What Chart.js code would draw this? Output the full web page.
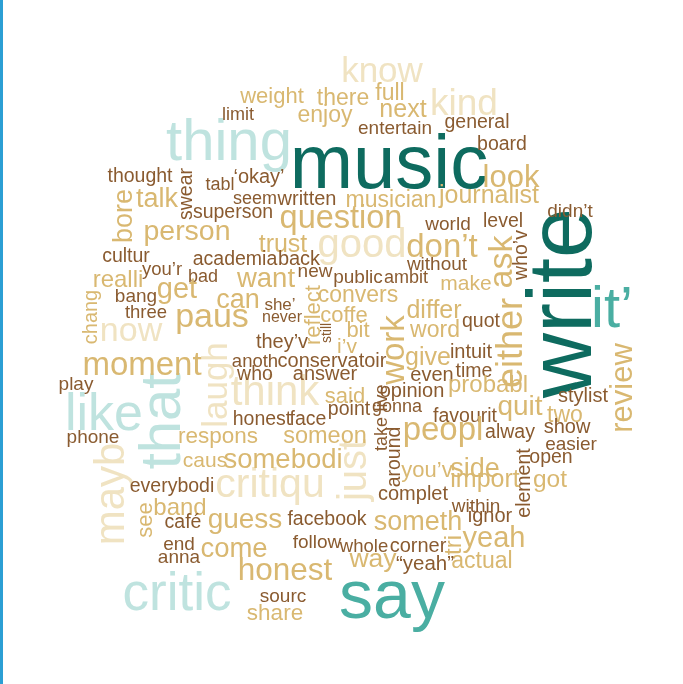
<!DOCTYPE html>
<html lang="en">
<head>
    <meta charset="UTF-8">
    <title>Word cloud</title>
    <style>
        body {
            margin: 0;
            padding: 0;
            background-color: #fff;
            overflow: hidden;
        }
        #wrap {
            position: relative;
            width: 683px;
            height: 684px;
        }
        #edge {
            position: absolute;
            left: 0;
            top: 0;
            width: 3px;
            height: 684px;
            background-color: #2b9fd4;
        }
    </style>
</head>
<body>
    <div id="wrap">
        <canvas id="cloud" width="683" height="684"></canvas>
        <div id="edge"></div>
    </div>

    <script src="https://cdn.jsdelivr.net/npm/chart.js"></script>

    <script>
        // words, placement (x = centre / baseline, y = baseline / centre), font size, rotation, colour tier
        const words = ["music","write","say","it’","thing","like","that","critic",
            "know","kind","look","good","think","laugh","critiqu","mayb","just","now",
            "ask","either","weight","there","full","next","enjoy","entertain","limit","general",
            "board","thought","swear","tabl","‘okay’","seem","written","superson","musician","journalist",
            "talk","bore","question","person","world","level","didn’t","who’v","don’t","trust",
            "academia","back","without","cultur","you’r","bad","realli","get","want","new",
            "public","ambit","make","chang","bang","three","can","paus","she’","never",
            "reflect","convers","coffe","still","bit","i’v","work","differ","word","quot",
            "review","moment","play","they’v","anoth","conservatoir","who","answer","give","even",
            "intuit","time","opinion","live","probabl","said","gonna","point","honest","face",
            "favourit","quit","two","stylist","take","around","peopl","alway","show","easier",
            "respons","phone","someon","caus","somebodi","you’v","side","element","open","got",
            "import","within","ignor","someth","yeah","tri","actual","complet","facebook","guess",
            "band","see","everybodi","café","end","anna","come","follow","whole","corner",
            "way","“yeah”","honest","sourc","share"];

        const xs = [389,591,392,612,229,104,180,177,
            382,464,511,362,275,227,270,124,366,131,
            512,522,272,343,390,403,325,395,238,477,
            502,140,192,220,259,255,307,233,391,489,
            157,132,341,187,448,503,570,527,442,283,
            235,299,437,126,162,203,118,177,266,315,
            358,406,466,97,136,146,238,212,280,282,
            320,358,344,331,358,347,404,434,435,481,
            632,142,76,282,255,332,255,325,428,432,
            471,474,412,387,488,345,397,349,262,308,
            465,520,565,583,387,400,443,510,567,571,
            218,93,325,205,283,427,475,530,551,550,
            485,476,490,418,494,461,482,413,327,245,
            180,152,172,183,179,179,234,317,364,418,
            373,425,285,283,275];

        const ys = [188,303,618,327,160,430,421,610,
            82,115,187,257,405,385,497,494,470,341,
            262,343,103,105,100,117,122,134,120,128,
            150,182,194,190,183,204,205,218,207,203,
            207,216,228,240,230,227,217,255,257,252,
            265,265,270,262,275,282,287,298,287,277,
            283,283,290,317,302,318,308,327,310,322,
            315,302,322,333,337,353,350,318,337,327,
            388,375,390,348,367,367,380,380,365,381,
            358,377,397,398,392,403,412,415,425,425,
            422,415,422,402,434,457,440,438,433,450,
            443,443,443,467,468,477,477,483,463,487,
            487,512,522,530,547,545,568,500,525,528,
            515,520,492,528,550,563,557,548,552,552,
            567,570,580,602,620];

        const sizes = [76,90,68,58,58,52,58,53,
            35,37,31,40,42,35,41,42,40,34,
            34,36,22,23,23,25,23,19,18,19.5,
            19.5,19.5,19.5,18,20,18,20,19.5,23,25,
            27,27,32.5,28.5,19,19.5,19,19.5,33,25,
            19.5,20,19,19.5,18.5,18,24,29,27.5,19,
            19,18,21,20,19,18.5,27,34,17,16,
            22,23,22,14,22,21,33,25,23,19.5,
            31,33,19,20,18.5,20,19.5,20,25,20,
            20,19.5,20,18,24,22,18,19.5,19.5,19.5,
            19.5,28,23,20,18,19.5,33,19.5,20,19,
            22.5,19,23.5,21,27.5,22,27,19.5,19.5,24.5,
            25,19,20,27,29,24,23,20,19.5,28,
            24,22,19.5,19.5,19,19,27.5,19,18.5,20,
            26.5,20.5,31.5,19,22.5];

        // 1 = reads bottom to top
        const rotated = ["write","that","laugh","mayb","just","ask","either","swear","bore","who’v",
            "chang","reflect","still","work","review","live","take","around","element","tri","see"];

        // 0 dark teal, 1 teal, 2 light teal, 3 pale sand, 4 sand, 5 brown
        const tiers = [0,0,1,1,2,2,2,2,
            3,3,4,3,3,3,3,3,3,3,
            4,4,4,4,4,4,4,5,5,5,
            5,5,5,5,5,5,5,5,4,4,
            4,4,4,4,5,5,5,5,4,4,
            5,5,5,5,5,5,4,4,4,5,
            5,5,4,4,5,5,4,4,5,5,
            4,4,4,5,4,4,4,4,4,5,
            4,4,5,5,5,5,5,5,4,5,
            5,5,5,5,4,4,5,5,5,5,
            5,4,4,5,5,5,4,5,5,5,
            4,5,4,4,4,4,4,5,5,4,
            4,5,5,4,4,4,4,5,5,4,
            4,4,5,5,5,5,4,5,5,5,
            4,5,4,5,4];

        const palette = ["#0e6b5f", "#4aaea2", "#bfe3df", "#f0e3c2", "#d9b871", "#8a5b30"];

        const points = words.map((w, i) => ({ x: xs[i], y: ys[i] }));

        const wordPlugin = {
            id: 'wordPlugin',
            afterDatasetsDraw(chart) {
                const ctx = chart.ctx;
                const meta = chart.getDatasetMeta(0);
                ctx.save();
                ctx.textAlign = 'center';
                ctx.textBaseline = 'alphabetic';
                meta.data.forEach((pt, i) => {
                    ctx.save();
                    ctx.translate(pt.x, pt.y);
                    if (rotated.includes(words[i])) ctx.rotate(-Math.PI / 2);
                    ctx.font = sizes[i] + 'px "Liberation Sans", Arial, sans-serif';
                    ctx.fillStyle = palette[tiers[i]];
                    ctx.fillText(words[i], 0, 0);
                    ctx.restore();
                });
                ctx.restore();
            }
        };

        new Chart(document.getElementById('cloud').getContext('2d'), {
            type: 'scatter',
            data: {
                datasets: [{
                    label: 'words',
                    data: points,
                    pointRadius: 0,
                    pointHoverRadius: 0
                }]
            },
            options: {
                responsive: false,
                animation: false,
                layout: { padding: 0 },
                plugins: {
                    legend: { display: false },
                    tooltip: { enabled: false }
                },
                scales: {
                    x: { type: 'linear', min: 0, max: 683, display: false },
                    y: { type: 'linear', min: 0, max: 684, reverse: true, display: false }
                }
            },
            plugins: [wordPlugin]
        });
    </script>
</body>
</html>
